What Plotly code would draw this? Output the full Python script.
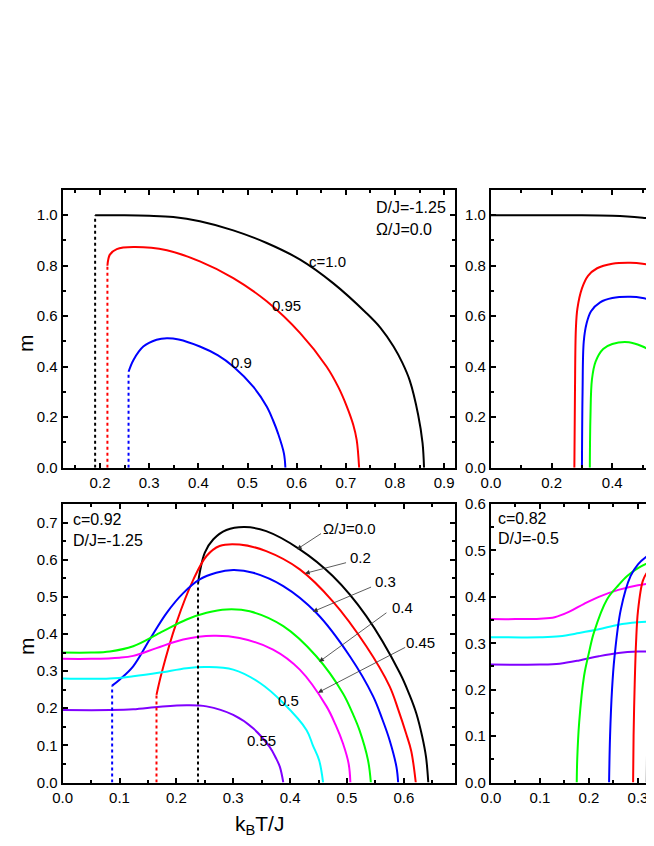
import plotly.graph_objects as go

# ---------- Daten: oben links (D/J=-1.25, Omega/J=0.0) ----------
tl_c10_x = [0.19, 0.25, 0.3, 0.349, 0.403, 0.471, 0.539, 0.607, 0.674, 0.742, 0.77, 0.797, 0.815, 0.83, 0.847, 0.856, 0.859]
tl_c10_y = [1.0, 1.0, 0.998, 0.993, 0.976, 0.94, 0.89, 0.824, 0.731, 0.612, 0.555, 0.48, 0.415, 0.345, 0.21, 0.097, 0.0]
tl_c095_x = [0.215, 0.22, 0.234, 0.268, 0.336, 0.403, 0.471, 0.539, 0.607, 0.661, 0.685, 0.702, 0.715, 0.722, 0.727]
tl_c095_y = [0.8, 0.844, 0.866, 0.874, 0.861, 0.817, 0.751, 0.659, 0.533, 0.40, 0.318, 0.242, 0.17, 0.11, 0.0]
tl_c09_x = [0.258, 0.268, 0.288, 0.315, 0.336, 0.36, 0.403, 0.44, 0.471, 0.512, 0.539, 0.552, 0.562, 0.574, 0.577]
tl_c09_y = [0.38, 0.427, 0.48, 0.507, 0.513, 0.508, 0.48, 0.445, 0.401, 0.32, 0.242, 0.187, 0.136, 0.057, 0.0]
tl_dots_x = [0.19, 0.215, 0.258]
tl_dots_top = [1.0, 0.8, 0.38]

# ---------- Daten: oben rechts ----------
tr_black_x = [0.0, 0.3, 0.4, 0.45, 0.5, 0.54]
tr_black_y = [1.0, 1.0, 0.998, 0.995, 0.99, 0.985]
tr_red_x = [0.275, 0.277, 0.28, 0.285, 0.3, 0.32, 0.35, 0.4, 0.46, 0.5, 0.54]
tr_red_y = [0.0, 0.3, 0.55, 0.63, 0.71, 0.76, 0.79, 0.808, 0.812, 0.808, 0.797]
tr_blue_x = [0.300, 0.302, 0.306, 0.315, 0.33, 0.36, 0.4, 0.46, 0.5, 0.54]
tr_blue_y = [0.0, 0.3, 0.5, 0.57, 0.62, 0.655, 0.672, 0.677, 0.672, 0.659]
tr_green_x = [0.326, 0.328, 0.333, 0.345, 0.37, 0.4, 0.455, 0.5, 0.54]
tr_green_y = [0.0, 0.2, 0.35, 0.42, 0.47, 0.49, 0.497, 0.48, 0.455]

# ---------- Daten: unten links (c=0.92, D/J=-1.25) ----------
bl_w00_x = [0.238, 0.241, 0.25, 0.265, 0.288, 0.32, 0.358, 0.417, 0.475, 0.534, 0.593, 0.61, 0.622, 0.632, 0.639, 0.643]
bl_w00_y = [0.535, 0.565, 0.619, 0.655, 0.68, 0.688, 0.677, 0.628, 0.556, 0.448, 0.295, 0.236, 0.186, 0.126, 0.069, 0.0]
bl_w02_x = [0.165, 0.174, 0.2, 0.23, 0.253, 0.276, 0.311, 0.358, 0.417, 0.475, 0.534, 0.575, 0.59, 0.604, 0.613, 0.621]
bl_w02_y = [0.236, 0.295, 0.43, 0.547, 0.61, 0.637, 0.641, 0.623, 0.574, 0.488, 0.367, 0.259, 0.197, 0.132, 0.085, 0.0]
bl_w03_x = [0.087, 0.1, 0.124, 0.153, 0.183, 0.212, 0.241, 0.27, 0.3, 0.335, 0.388, 0.446, 0.505, 0.546, 0.562, 0.575, 0.587, 0.59]
bl_w03_y = [0.261, 0.277, 0.313, 0.385, 0.457, 0.51, 0.547, 0.565, 0.572, 0.565, 0.529, 0.457, 0.34, 0.232, 0.171, 0.114, 0.042, 0.0]
bl_w04_x = [0.0, 0.05, 0.083, 0.124, 0.171, 0.218, 0.253, 0.288, 0.329, 0.388, 0.446, 0.493, 0.51, 0.522, 0.537, 0.542]
bl_w04_y = [0.35, 0.35, 0.353, 0.367, 0.403, 0.439, 0.457, 0.466, 0.461, 0.421, 0.34, 0.24, 0.186, 0.141, 0.06, 0.0]
bl_w045_x = [0.0, 0.05, 0.1, 0.124, 0.165, 0.212, 0.265, 0.311, 0.37, 0.417, 0.464, 0.48, 0.493, 0.503, 0.506]
bl_w045_y = [0.333, 0.333, 0.336, 0.341, 0.362, 0.385, 0.395, 0.389, 0.358, 0.304, 0.205, 0.155, 0.105, 0.05, 0.0]
bl_w05_x = [0.0, 0.083, 0.124, 0.171, 0.218, 0.253, 0.3, 0.347, 0.388, 0.429, 0.44, 0.451, 0.458]
bl_w05_y = [0.28, 0.28, 0.286, 0.296, 0.308, 0.311, 0.304, 0.268, 0.214, 0.141, 0.10, 0.06, 0.0]
bl_w055_x = [0.0, 0.083, 0.124, 0.171, 0.218, 0.253, 0.3, 0.335, 0.364, 0.375, 0.382, 0.388]
bl_w055_y = [0.195, 0.195, 0.197, 0.204, 0.208, 0.205, 0.182, 0.146, 0.096, 0.066, 0.042, 0.0]
bl_dots_x = [0.238, 0.165, 0.087]
bl_dots_top = [0.535, 0.236, 0.261]

# ---------- Daten: unten rechts (c=0.82, D/J=-0.5) ----------
br_mag_x = [0.0, 0.05, 0.1, 0.13, 0.16, 0.19, 0.22, 0.26, 0.3, 0.333]
br_mag_y = [0.352, 0.352, 0.353, 0.356, 0.368, 0.385, 0.40, 0.415, 0.425, 0.43]
br_cyan_x = [0.0, 0.1, 0.14, 0.18, 0.22, 0.26, 0.3, 0.333]
br_cyan_y = [0.313, 0.313, 0.315, 0.322, 0.33, 0.34, 0.345, 0.347]
br_vio_x = [0.0, 0.1, 0.14, 0.18, 0.22, 0.26, 0.3, 0.333]
br_vio_y = [0.254, 0.254, 0.256, 0.263, 0.272, 0.279, 0.282, 0.282]
br_green_x = [0.175, 0.176, 0.18, 0.19, 0.2, 0.21, 0.237, 0.26, 0.278, 0.3, 0.333]
br_green_y = [0.0, 0.05, 0.13, 0.23, 0.28, 0.323, 0.395, 0.425, 0.445, 0.462, 0.479]
br_blue_x = [0.241, 0.243, 0.247, 0.252, 0.265, 0.285, 0.3, 0.319, 0.333]
br_blue_y = [0.0, 0.1, 0.2, 0.27, 0.373, 0.445, 0.47, 0.488, 0.496]
br_red_x = [0.290, 0.291, 0.293, 0.296, 0.3, 0.31, 0.32, 0.333]
br_red_y = [0.0, 0.1, 0.2, 0.3, 0.37, 0.435, 0.455, 0.47]
br_black_x = [0.318, 0.319, 0.321, 0.326, 0.333]
br_black_y = [0.0, 0.15, 0.27, 0.36, 0.40]

# Farben wie im Original (Origin-Standardfarben)
BLACK, RED, BLUE, GREEN = "#000000", "#ff0000", "#0000ff", "#00ff00"
MAGENTA, CYAN, VIOLET = "#ff00ff", "#00ffff", "#8000ff"
FONT = "Arial, Liberation Sans, sans-serif"

fig = go.Figure()


def add_line(x, y, color, ax, dash="solid"):
    fig.add_trace(go.Scatter(x=x, y=y, mode="lines", xaxis="x" + ax, yaxis="y" + ax,
                             line=dict(color=color, width=2, dash=dash, shape="spline", smoothing=1.0),
                             hoverinfo="skip", showlegend=False))


# oben links
add_line(tl_c10_x, tl_c10_y, BLACK, "")
add_line(tl_c095_x, tl_c095_y, RED, "")
add_line(tl_c09_x, tl_c09_y, BLUE, "")
for xd, yt, col in zip(tl_dots_x, tl_dots_top, [BLACK, RED, BLUE]):
    add_line([xd, xd], [0, yt], col, "", dash="dot")

# oben rechts
add_line(tr_black_x, tr_black_y, BLACK, "2")
add_line(tr_red_x, tr_red_y, RED, "2")
add_line(tr_blue_x, tr_blue_y, BLUE, "2")
add_line(tr_green_x, tr_green_y, GREEN, "2")

# unten links
add_line(bl_w00_x, bl_w00_y, BLACK, "3")
add_line(bl_w02_x, bl_w02_y, RED, "3")
add_line(bl_w03_x, bl_w03_y, BLUE, "3")
add_line(bl_w04_x, bl_w04_y, GREEN, "3")
add_line(bl_w045_x, bl_w045_y, MAGENTA, "3")
add_line(bl_w05_x, bl_w05_y, CYAN, "3")
add_line(bl_w055_x, bl_w055_y, VIOLET, "3")
for xd, yt, col in zip(bl_dots_x, bl_dots_top, [BLACK, RED, BLUE]):
    add_line([xd, xd], [0, yt], col, "3", dash="dot")

# unten rechts
add_line(br_mag_x, br_mag_y, MAGENTA, "4")
add_line(br_cyan_x, br_cyan_y, CYAN, "4")
add_line(br_vio_x, br_vio_y, VIOLET, "4")
add_line(br_green_x, br_green_y, GREEN, "4")
add_line(br_blue_x, br_blue_y, BLUE, "4")
add_line(br_red_x, br_red_y, RED, "4")
add_line(br_black_x, br_black_y, BLACK, "4")


def axis(domain, rng, dtick, minor, anchor, mirror="allticks"):
    return dict(domain=domain, range=rng, anchor=anchor, dtick=dtick, tick0=0,
                tickformat=".1f", ticks="inside", ticklen=5, tickwidth=1.5, tickcolor="black",
                minor=dict(dtick=minor, ticks="inside", ticklen=3, tickwidth=1.5, tickcolor="black"),
                showline=True, linewidth=2, linecolor="black", mirror=mirror,
                showgrid=False, zeroline=False, fixedrange=True, automargin=False,
                tickfont=dict(family=FONT, size=15, color="black"))


# Bereiche (Seite hat 8px Rand im Browser, daher leicht verschoben)
XL, XR = [0.0836, 0.6835], [0.7385, 1.0]
YT, YB = [0.4566, 0.7849], [0.0845, 0.4137]

ann = []


def txt(x, y, text, ax, size=15, xanchor="center"):
    ann.append(dict(x=x, y=y, xref="x" + ax, yref="y" + ax, text=text, showarrow=False,
                    xanchor=xanchor, font=dict(family=FONT, size=size, color="black")))


def arrow(x, y, ax_, ay_, ax):
    ann.append(dict(x=x, y=y, ax=ax_, ay=ay_, xref="x" + ax, yref="y" + ax,
                    axref="x" + ax, ayref="y" + ax, text="", showarrow=True,
                    arrowhead=2, arrowsize=1.2, arrowwidth=0.8, arrowcolor="#333333"))


# Beschriftungen oben links
txt(0.757, 1.03, "D/J=-1.25", "", size=16, xanchor="left")
txt(0.757, 0.943, "Ω/J=0.0", "", size=16, xanchor="left")
txt(0.663, 0.816, "c=1.0", "")
txt(0.58, 0.642, "0.95", "")
txt(0.487, 0.415, "0.9", "")

# Beschriftungen unten links
txt(0.0146, 0.708, "c=0.92", "3", size=16, xanchor="left")
txt(0.0146, 0.652, "D/J=-1.25", "3", size=16, xanchor="left")
txt(0.505, 0.685, "Ω/J=0.0", "3")
txt(0.523, 0.606, "0.2", "3")
txt(0.567, 0.542, "0.3", "3")
txt(0.597, 0.471, "0.4", "3")
txt(0.63, 0.376, "0.45", "3")
txt(0.398, 0.22, "0.5", "3")
txt(0.349, 0.114, "0.55", "3")
arrow(0.412, 0.628, 0.457, 0.673, "3")
arrow(0.426, 0.563, 0.501, 0.593, "3")
arrow(0.440, 0.460, 0.545, 0.528, "3")
arrow(0.451, 0.325, 0.572, 0.460, "3")
arrow(0.449, 0.242, 0.605, 0.366, "3")

# Beschriftungen unten rechts
txt(0.0096, 0.569, "c=0.82", "4", size=16, xanchor="left")
txt(0.0096, 0.526, "D/J=-0.5", "4", size=16, xanchor="left")

# Achsentitel
for yy in [0.604, 0.2329]:
    ann.append(dict(x=0.0107, y=yy, xref="paper", yref="paper", text="m", showarrow=False,
                    textangle=-90, height=18, valign="middle",
                    font=dict(family=FONT, size=21, color="black")))
ann.append(dict(x=0.3853, y=0.0165, xref="paper", yref="paper", text="k<sub>B</sub>T/J",
                showarrow=False, font=dict(family=FONT, size=21, color="black")))

fig.update_layout(
    width=654, height=846,
    margin=dict(l=0, r=0, t=0, b=0),
    paper_bgcolor="white", plot_bgcolor="white",
    showlegend=False,
    xaxis=axis(XL, [0.124, 0.922], 0.1, 0.05, "y"),
    yaxis=axis(YT, [0, 1.1], 0.2, 0.1, "x"),
    xaxis2=axis(XR, [0, 0.564], 0.2, 0.1, "y2"),
    yaxis2=axis(YT, [0, 1.1], 0.2, 0.1, "x2", mirror=False),
    xaxis3=axis(XL, [0, 0.69], 0.1, 0.05, "y3"),
    yaxis3=axis(YB, [0, 0.75], 0.1, 0.05, "x3"),
    xaxis4=axis(XR, [0, 0.349], 0.1, 0.05, "y4"),
    yaxis4=axis(YB, [0, 0.6], 0.1, 0.05, "x4", mirror=False),
    annotations=ann,
)

fig.write_html("out.html")
